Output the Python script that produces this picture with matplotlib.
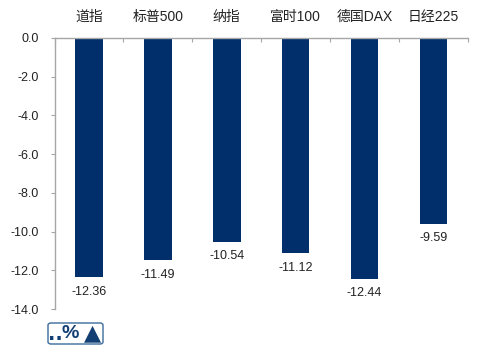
import matplotlib
matplotlib.use('Agg')
import matplotlib.pyplot as plt
from matplotlib.patches import FancyBboxPatch

plt.rcParams['font.family'] = ['Liberation Sans', 'Noto Sans CJK SC', 'DejaVu Sans']

indexes = ['道指', '标普500', '纳指', '富时100', '德国DAX', '日经225']
changes = [-12.36, -11.49, -10.54, -11.12, -12.44, -9.59]
yticks = [0.0, -2.0, -4.0, -6.0, -8.0, -10.0, -12.0, -14.0]

W, H = 499, 353
fig = plt.figure(figsize=(W / 100, H / 100), dpi=100)
ax = fig.add_axes([54.5 / W, 1 - 309 / H, (468 - 54.5) / W, (309 - 38) / H])

bars = ax.bar(range(len(indexes)), changes, width=0.4, color='#002F6C')
ax.set_xlim(-0.5, 5.5)
ax.set_ylim(-14, 0)

# ticks sit between the categories, labels are placed by hand above
ax.xaxis.tick_top()
ax.set_xticks([i + 0.5 for i in range(-1, 6)])
ax.set_xticklabels([])
ax.tick_params(axis='x', direction='in', length=3, width=0.8, color='#A6A6A6')
for i, name in enumerate(indexes):
    ax.annotate(name, (i, 0), xytext=(0, 15), textcoords='offset points',
                ha='center', va='center', fontsize=10, color='#222222')

ax.set_yticks(yticks)
ax.set_yticklabels([f'{v:.1f}' for v in yticks], fontsize=9, color='#222222')
ax.tick_params(axis='y', direction='out', length=3, width=0.8, color='#A6A6A6', pad=8)

for s in ['right', 'bottom']:
    ax.spines[s].set_visible(False)
for s in ['top', 'left']:
    ax.spines[s].set_color('#A6A6A6')
    ax.spines[s].set_linewidth(1.0)

# value labels under the bars
for i, v in enumerate(changes):
    ax.annotate(f'{v:.2f}', (i, v), xytext=(0, -6), textcoords='offset points',
                ha='center', va='top', fontsize=9, color='#222222')

# watermark badge bottom left
badge = FancyBboxPatch((48 / W, 1 - 344 / H), 55 / W, 21 / H, transform=fig.transFigure,
                       boxstyle='round,pad=0,rounding_size=0.006', fc='white', ec='#3A6A9A', lw=1)
fig.add_artist(badge)
fig.text(55 / W, 1 - 334 / H, '..', color='#123F73', fontsize=14, fontweight='bold',
         ha='center', va='center', family=['DejaVu Sans'])
fig.text(70 / W, 1 - 333.5 / H, '%', color='#123F73', fontsize=14, fontweight='bold',
         ha='center', va='center', family=['Liberation Sans'])
fig.text(92 / W, 1 - 333 / H, '▲', color='#123F73', fontsize=16,
         ha='center', va='center', family=['DejaVu Sans'])

fig.savefig('out.png', dpi=100)
